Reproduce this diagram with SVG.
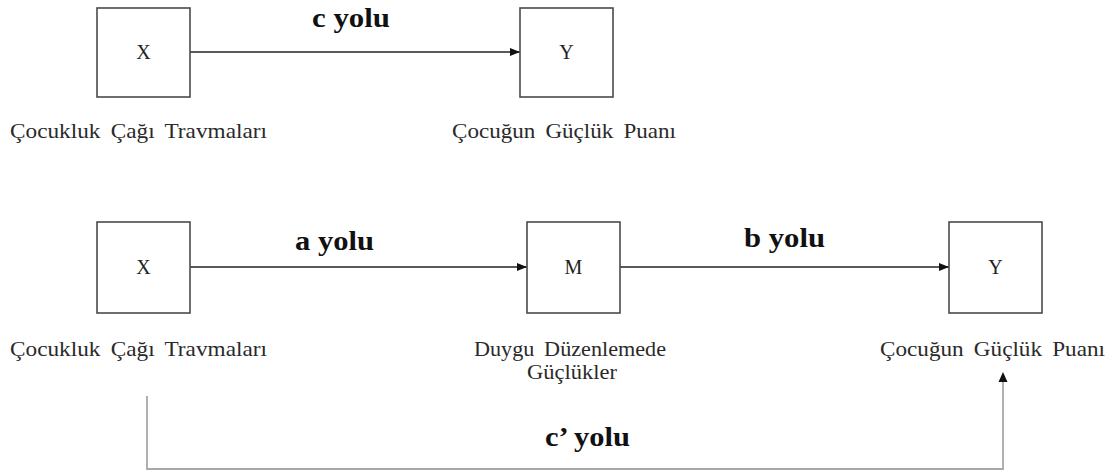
<svg xmlns="http://www.w3.org/2000/svg" width="1118" height="476" viewBox="0 0 1118 476">
<style>
.box{fill:#fff;stroke:#4a4a4a;stroke-width:1.6}
.var{font-size:20px;fill:#222;text-anchor:middle}
.lbl{font-size:21px;fill:#2a2a2a;word-spacing:4px}
.path{font-size:28px;font-weight:bold;fill:#111}
.arr{fill:none;stroke:#222;stroke-width:1.5}
.cp{fill:none;stroke:#a8a8a8;stroke-width:1.8}
</style>
<defs>
<marker id="ah" viewBox="0 0 10 10" refX="10" refY="5" markerWidth="10" markerHeight="10" markerUnits="userSpaceOnUse" orient="auto">
<path d="M0,1 L10,5 L0,9 Z" fill="#111"/>
</marker>
</defs>
<g font-family="Liberation Serif, Times New Roman, serif">
<g id="connectors">
<line class="arr" x1="190" y1="52" x2="520" y2="52" marker-end="url(#ah)"/>
<line class="arr" x1="190" y1="267" x2="527" y2="267" marker-end="url(#ah)"/>
<line class="arr" x1="620" y1="267" x2="949" y2="267" marker-end="url(#ah)"/>
<path class="cp" d="M147,396 V469 H1003 V382"/>
<path d="M1003,372 L998.5,382 L1007.5,382 Z" fill="#111"/>
<text class="path" x="312" y="27" textLength="78" lengthAdjust="spacingAndGlyphs">c yolu</text>
<text class="path" x="295" y="250" textLength="79" lengthAdjust="spacingAndGlyphs">a yolu</text>
<text class="path" x="744" y="247" textLength="81" lengthAdjust="spacingAndGlyphs">b yolu</text>
<text class="path" x="545" y="446" textLength="85" lengthAdjust="spacingAndGlyphs">c’ yolu</text>
</g>
<g id="top-x">
<rect class="box" x="97" y="8" width="93" height="89"/>
<text class="var" x="143.5" y="59">X</text>
<text class="lbl" x="10" y="138" textLength="257" lengthAdjust="spacingAndGlyphs">Çocukluk Çağı Travmaları</text>
</g>
<g id="top-y">
<rect class="box" x="520" y="8" width="93" height="89"/>
<text class="var" x="566.5" y="59">Y</text>
<text class="lbl" x="452" y="138" textLength="224" lengthAdjust="spacingAndGlyphs">Çocuğun Güçlük Puanı</text>
</g>
<g id="bottom-x">
<rect class="box" x="97" y="222" width="93" height="91"/>
<text class="var" x="143.5" y="274">X</text>
<text class="lbl" x="10" y="356" textLength="257" lengthAdjust="spacingAndGlyphs">Çocukluk Çağı Travmaları</text>
</g>
<g id="bottom-m">
<rect class="box" x="527" y="222" width="93" height="91"/>
<text class="var" x="573.5" y="274">M</text>
<text class="lbl" x="474" y="356" textLength="192" lengthAdjust="spacingAndGlyphs">Duygu Düzenlemede</text>
<text class="lbl" x="527" y="379" textLength="90" lengthAdjust="spacingAndGlyphs">Güçlükler</text>
</g>
<g id="bottom-y">
<rect class="box" x="949" y="222" width="93" height="91"/>
<text class="var" x="995.5" y="274">Y</text>
<text class="lbl" x="880" y="356" textLength="225" lengthAdjust="spacingAndGlyphs">Çocuğun Güçlük Puanı</text>
</g>
</g>
</svg>
